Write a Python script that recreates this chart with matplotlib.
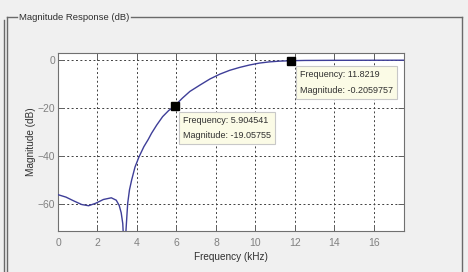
import matplotlib
matplotlib.use("Agg")
import matplotlib.pyplot as plt
from matplotlib.lines import Line2D

plt.rcParams['font.family'] = ['Liberation Sans', 'DejaVu Sans']

# magnitude response (kHz, dB)
freq_khz = [0.0, 0.4, 0.8, 1.2, 1.55, 1.9, 2.3, 2.7, 2.95, 3.1, 3.2, 3.28, 3.33,
            3.36, 3.42, 3.48, 3.53, 3.62, 3.73, 3.9, 4.1, 4.35, 4.57, 4.74, 5.0,
            5.3, 5.6, 5.904541, 6.3, 6.68, 7.2, 7.7, 8.2, 8.7, 9.2, 9.7, 10.2,
            10.7, 11.2, 11.8219, 12.5, 14.0, 17.54]
mag_db = [-56.0, -57.0, -58.6, -60.1, -60.6, -59.6, -58.0, -57.3, -58.3, -60.5,
          -63.5, -68.0, -76.0, -80.0, -74.0, -66.0, -59.6, -54.0, -49.9, -44.5,
          -40.3, -36.0, -33.0, -30.4, -27.0, -23.5, -21.0, -19.05755, -15.8,
          -13.0, -10.3, -7.8, -5.8, -4.2, -3.0, -2.0, -1.2, -0.7, -0.4,
          -0.2059757, -0.1, -0.05, 0.0]

tip_freq = [5.904541, 11.8219]
tip_mag = [-19.05755, -0.2059757]
tip_text = ["Frequency: 5.904541\nMagnitude: -19.05755",
            "Frequency: 11.8219\nMagnitude: -0.2059757"]

xticks = [0, 2, 4, 6, 8, 10, 12, 14, 16]
yticks = [0, -20, -40, -60]

W, H = 468, 272
fig = plt.figure(figsize=(W / 100, H / 100), dpi=100)
fig.patch.set_facecolor('#f0f0f0')

# group box frame (pixel coords -> figure fraction)
def px(x, y):
    return x / W, 1 - y / H

title = fig.text(19 / W, 1 - 17 / H, "Magnitude Response (dB)", fontsize=6.8,
                 color='#303030', va='center', ha='left')
fig.canvas.draw()
tb = title.get_window_extent()
title_end = tb.x1 + 2

edge = '#6a6a6a'
for (x0, y0, x1, y1) in [(7.5, 17, 7.5, 272), (3.5, 20, 3.5, 272),
                         (7.5, 17, 17, 17), (title_end, 17, 462, 17),
                         (462, 17, 462, 272)]:
    a, b = px(x0, y0)
    c, d = px(x1, y1)
    fig.add_artist(Line2D([a, c], [b, d], color=edge, lw=1.0))

ax = fig.add_axes([58 / W, 1 - 230.7 / H, (404.3 - 58) / W, (230.7 - 53) / H])
ax.set_facecolor('white')
ax.plot(freq_khz, mag_db, color='#3e3e98', lw=1.0, zorder=3)
ax.set_xlim(0, 17.54)
ax.set_ylim(-71, 3)
ax.set_xticks(xticks)
ax.set_yticks(yticks)
ax.grid(True, color='#404040', linestyle=(0, (2, 2.5)), lw=0.7)
ax.tick_params(direction='in', top=True, right=True, length=4, width=0.7,
               labelsize=7.5, labelcolor='#808080', color='#606060')
ax.tick_params(axis='x', pad=5)
ax.tick_params(axis='y', pad=2)
for s in ax.spines.values():
    s.set_color('#707070')
    s.set_linewidth(0.8)
ax.set_xlabel("Frequency (kHz)", fontsize=7.2, color='#303030', labelpad=3)
ax.set_ylabel("Magnitude (dB)", fontsize=7.2, color='#303030', labelpad=1)

ax.plot(tip_freq, tip_mag, 's', color='black', ms=6, zorder=5, clip_on=False)
for f, m, t in zip(tip_freq, tip_mag, tip_text):
    ax.annotate(t, (f, m), xytext=(6, -7), textcoords='offset points',
                ha='left', va='top', fontsize=6.5, color='#303030', linespacing=1.9,
                bbox=dict(boxstyle='square,pad=0.45', fc='#fbfbe6', ec='#c8c8c8',
                          lw=0.8), zorder=6, annotation_clip=False)

fig.savefig("out.png", dpi=100, facecolor=fig.get_facecolor())
